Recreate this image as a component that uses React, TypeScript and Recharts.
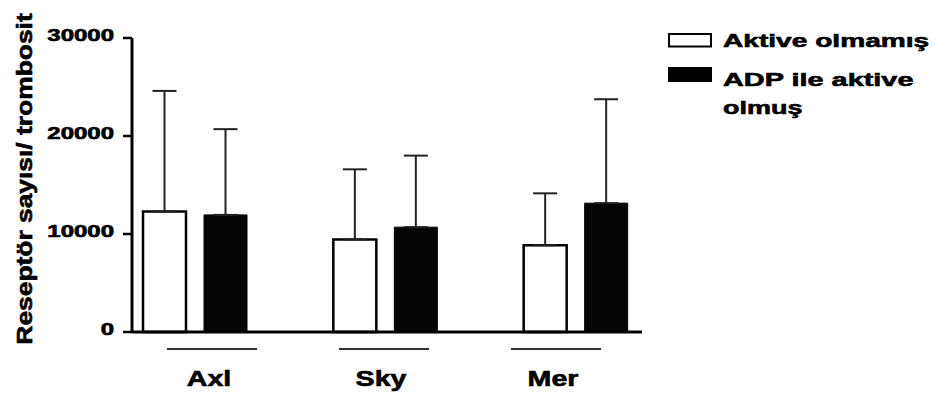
import React from 'react';
import { BarChart, Bar, XAxis, YAxis, ErrorBar, Legend } from 'recharts';

// Receptor groups on the x axis
const receptors = ['Axl', 'Sky', 'Mer'];
// Mean receptor count per platelet, resting platelets
const aktiveOlmamis = [12300, 9450, 8850];
// Upper SD for resting platelets
const aktiveOlmamisSd = [12300, 7150, 5300];
// Mean receptor count per platelet, ADP-activated platelets
const adpAktive = [11950, 10700, 13150];
// Upper SD for ADP-activated platelets
const adpAktiveSd = [8750, 7300, 10600];
// Y-axis tick values
const yTicks = [0, 10000, 20000, 30000];

const FONT = '"Liberation Sans", Arial, Helvetica, sans-serif';
// heavy bold look: bold face plus a thin outline of the same colour
const heavy = { fontWeight: 'bold' as const, fill: '#000', stroke: '#000', strokeWidth: 0.6 };

const data = receptors.map((name, i) => ({
  name,
  olmamis: aktiveOlmamis[i],
  olmamisErr: [0, aktiveOlmamisSd[i]],
  adp: adpAktive[i],
  adpErr: [0, adpAktiveSd[i]],
}));

const YTick = (props: any) => {
  const { x, y, payload } = props;
  return (
    <text
      transform={`translate(${x},${y + 3}) scale(1.5,1)`}
      textAnchor="end"
      fontSize={16}
      fontFamily={FONT}
      {...heavy}
    >
      {payload.value}
    </text>
  );
};

const XTick = (props: any) => {
  const { x, payload } = props;
  return (
    <g>
      <line x1={x - 45} x2={x + 45} y1={349} y2={349} stroke="#333" strokeWidth={2} />
      <text
        transform={`translate(${x - 3},386) scale(1.3,1)`}
        textAnchor="middle"
        fontSize={22}
        fontFamily={FONT}
        {...heavy}
      >
        {payload.value}
      </text>
    </g>
  );
};

const renderYLabel = () => (
  <text
    transform="translate(32,179) rotate(-90) scale(1.2,1)"
    textAnchor="middle"
    fontSize={22}
    fontFamily={FONT}
    {...heavy}
  >
    Reseptör sayısı/ trombosit
  </text>
);

const renderLegend = () => (
  <svg width={275} height={100} style={{ overflow: 'visible', display: 'block' }}>
    <g transform="translate(-660,-25)" fontFamily={FONT}>
      <rect x={669} y={34} width={42} height={12.5} fill="#fff" stroke="#000" strokeWidth={2} />
      <text transform="translate(723,46.5) scale(1.48,1)" fontSize={19} {...heavy}>Aktive olmamış</text>
      <rect x={668} y={67} width={44} height={15} fill="#000" />
      <text transform="translate(723,86) scale(1.52,1)" fontSize={19} {...heavy}>ADP ile aktive</text>
      <text transform="translate(723,114) scale(1.42,1)" fontSize={19} {...heavy}>olmuş</text>
    </g>
  </svg>
);

export default function App() {
  return (
    <div style={{ position: 'absolute', left: 0, top: 0, width: 935, height: 396, background: '#fff' }}>
      <BarChart
        width={935}
        height={396}
        data={data}
        margin={{ top: 38, right: 293, bottom: 4, left: 0 }}
        barGap={18}
        barSize={43}
      >
        <XAxis
          xAxisId="lbl"
          dataKey="name"
          height={60}
          padding={{ left: -6, right: 0 }}
          axisLine={{ stroke: '#000', strokeWidth: 3 }}
          tickLine={false}
          tick={<XTick />}
          interval={0}
        />
        <XAxis xAxisId="bars" dataKey="name" hide height={0} padding={{ left: -32, right: -29 }} />
        <YAxis
          width={132}
          domain={[0, 30000]}
          ticks={yTicks}
          interval={0}
          axisLine={{ stroke: '#000', strokeWidth: 3 }}
          tickLine={{ stroke: '#000', strokeWidth: 2.5 }}
          tickSize={9}
          tickMargin={9}
          tick={<YTick />}
          label={{ content: renderYLabel }}
        />
        <Legend
          layout="vertical"
          align="center"
          verticalAlign="middle"
          wrapperStyle={{ position: 'absolute', left: 660, top: 25, width: 275, height: 100 }}
          content={renderLegend}
        />
        <Bar
          xAxisId="bars"
          dataKey="olmamis"
          fill="#fff"
          stroke="#000"
          strokeWidth={2.5}
          isAnimationActive={false}
        >
          <ErrorBar dataKey="olmamisErr" width={12} stroke="#222" strokeWidth={2} direction="y" />
        </Bar>
        <Bar
          xAxisId="bars"
          dataKey="adp"
          fill="#050505"
          stroke="#000"
          strokeWidth={1}
          isAnimationActive={false}
        >
          <ErrorBar dataKey="adpErr" width={12} stroke="#222" strokeWidth={2} direction="y" />
        </Bar>
      </BarChart>
    </div>
  );
}
